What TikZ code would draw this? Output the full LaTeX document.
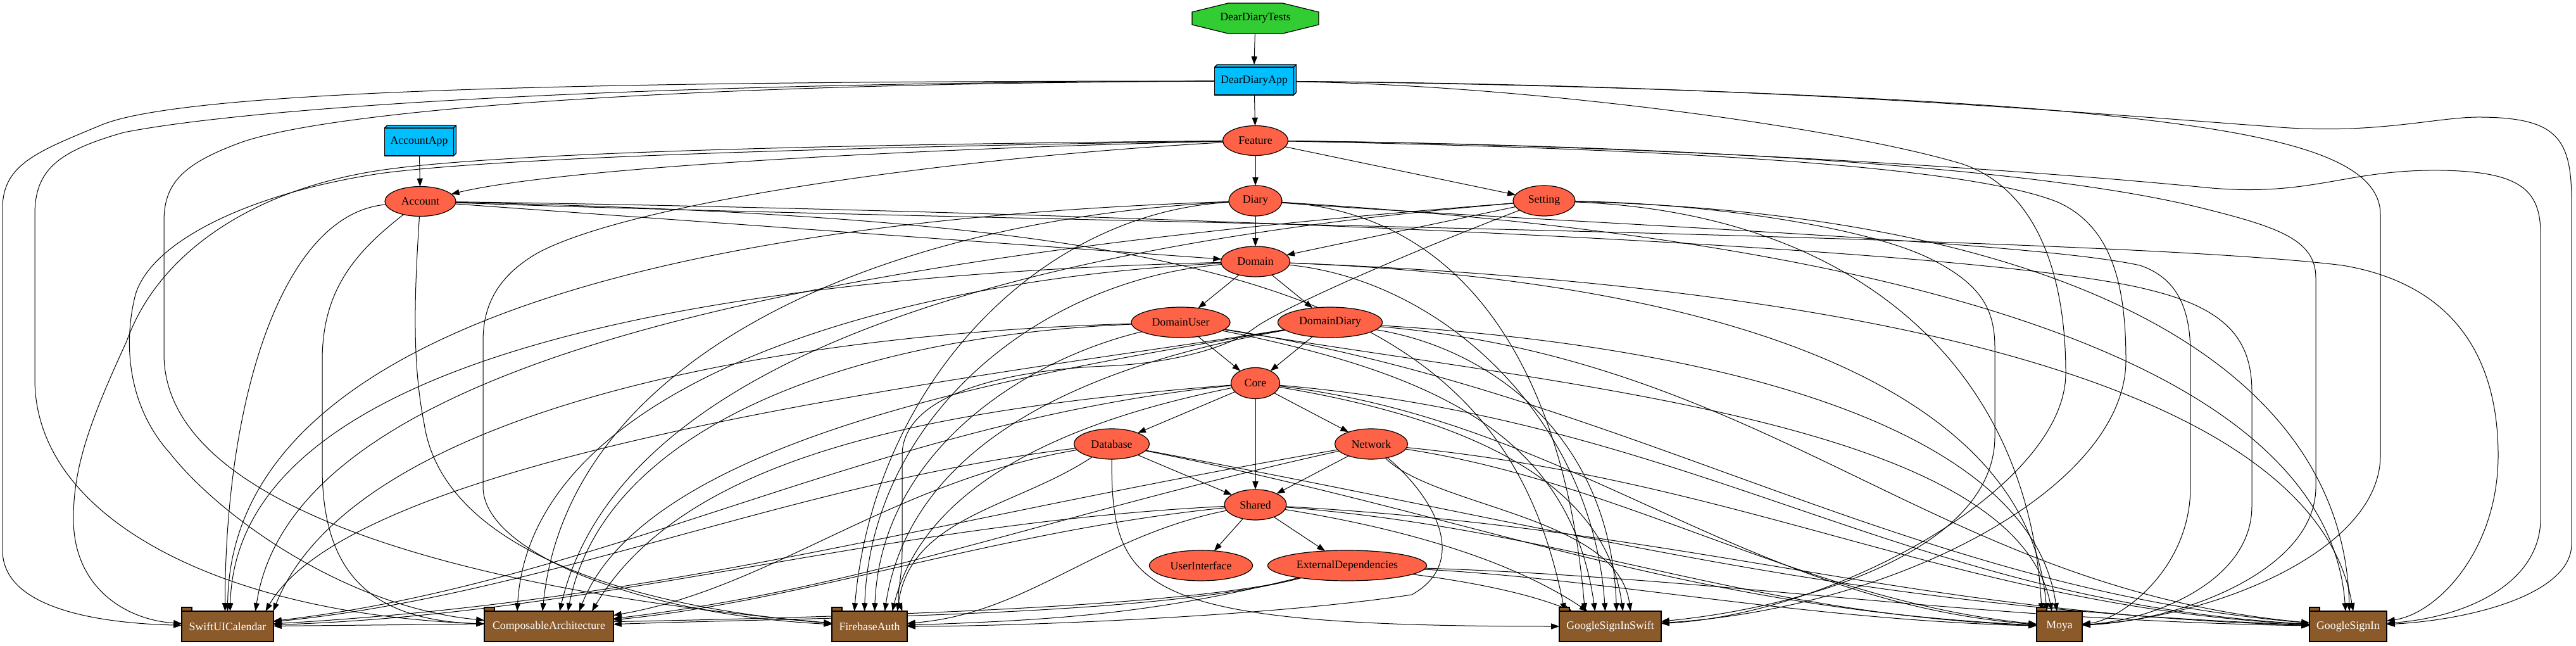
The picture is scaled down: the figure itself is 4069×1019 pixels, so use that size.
\documentclass[tikz,border=0pt]{standalone}
\usepackage{fontspec}
\setmainfont{Liberation Serif}
\usetikzlibrary{arrows.meta,shapes.geometric,backgrounds}
\definecolor{tomatoc}{HTML}{FF6347}
\definecolor{skyc}{HTML}{00BFFF}
\definecolor{greenc}{HTML}{32CD32}
\definecolor{brownc}{HTML}{8B5A2B}
\begin{document}
\begin{tikzpicture}[x=0.5pt,y=0.5pt,
  lbl/.style={font=\fontsize{8.9}{10.7}\selectfont, inner sep=0pt, outer sep=0pt},
  modnode/.style={lbl, ellipse, draw=black, line width=0.6pt, fill=tomatoc, minimum height=24pt},
  appnode/.style={lbl, rectangle, draw=black, line width=0.6pt, fill=skyc, minimum height=22pt},
  extnode/.style={lbl, rectangle, draw=black, line width=0.6pt, fill=brownc, text=white, minimum height=24pt},
  dep/.style={line width=0.5pt, -{Triangle[length=6.4pt,width=4.6pt]}},
  face/.style={fill=skyc, draw=black, line width=0.6pt, line join=round},
  tabface/.style={fill=brownc, draw=black, line width=0.6pt}]
\useasboundingbox (0,0) rectangle (4069,1019);
\begin{scope}[on background layer]\fill[white] (0,0) rectangle (4069,1019);\end{scope}

% ---------- nodes ----------
\filldraw[fill=greenc, line width=0.6pt] (1940,1014) -- (2026,1014) -- (2083,1000) -- (2083,980) -- (2026,966) -- (1940,966) -- (1883,980) -- (1883,1000) -- cycle;
\node[lbl, minimum width=100pt, minimum height=24pt] (tests) at (1983,990) {DearDiaryTests};
\node[appnode, minimum width=62.5pt] (app) at (1981,891) {DearDiaryApp};
\draw[face] (app.north west) -- ++(4,4) -- ([shift={(4,4)}]app.north east) -- (app.north east) -- cycle;
\draw[face] (app.north east) -- ++(4,4) -- ([shift={(4,4)}]app.south east) -- (app.south east) -- cycle;
\node[appnode, minimum width=54.5pt] (accapp) at (662,795) {AccountApp};
\draw[face] (accapp.north west) -- ++(4,4) -- ([shift={(4,4)}]accapp.north east) -- (accapp.north east) -- cycle;
\draw[face] (accapp.north east) -- ++(4,4) -- ([shift={(4,4)}]accapp.south east) -- (accapp.south east) -- cycle;
\node[modnode, minimum width=51.5pt, minimum height=23.5pt] (feature) at (1983,797) {Feature};
\node[modnode, minimum width=56pt, minimum height=23.5pt] (account) at (664,701) {Account};
\node[modnode, minimum width=42pt] (diary) at (1983,702) {Diary};
\node[modnode, minimum width=49pt] (setting) at (2439,702) {Setting};
\node[modnode, minimum width=54.5pt] (domain) at (1983,606) {Domain};
\node[modnode, minimum width=78pt] (du) at (1865,510) {DomainUser};
\node[modnode, minimum width=82.5pt] (dd) at (2101,510) {DomainDiary};
\node[modnode, minimum width=38.5pt, minimum height=24.5pt] (core) at (1983,414) {Core};
\node[modnode, minimum width=59.5pt] (db) at (1756,318) {Database};
\node[modnode, minimum width=57.5pt] (net) at (2166,318) {Network};
\node[modnode, minimum width=49pt] (shared) at (1983,222) {Shared};
\node[modnode, minimum width=81.5pt] (ui) at (1897,126) {UserInterface};
\node[modnode, minimum width=125.5pt] (ed) at (2128,126) {ExternalDependencies};
\node[extnode, minimum width=72.5pt] (suc) at (359.5,30) {SwiftUICalendar};
\node[extnode, minimum width=102pt] (ca) at (867,30) {ComposableArchitecture};
\node[extnode, minimum width=59.5pt] (fa) at (1373.5,30) {FirebaseAuth};
\node[extnode, minimum width=80.5pt] (gss) at (2543.5,30) {GoogleSignInSwift};
\node[extnode, minimum width=36pt] (moya) at (3253,30) {Moya};
\node[extnode, minimum width=61pt] (gs) at (3709,30) {GoogleSignIn};
\foreach \n in {suc,ca,fa,gss,moya,gs} \draw[tabface] (\n.north west) rectangle ++(16,6);

% ---------- edges ----------
\begin{scope}[on background layer]
% internal
\draw[dep] (tests) -- ([yshift=2pt]app.north);
\draw[dep] (app) -- (feature);
\draw[dep] (accapp) -- (account);
\draw[dep] (feature) .. controls (1500,786) and (900,757) .. (account);
\draw[dep] (feature) -- (diary);
\draw[dep] (feature) -- (setting);
\draw[dep] (account) -- (domain);
\draw[dep] (diary) -- (domain);
\draw[dep] (setting) -- (domain);
\draw[dep] (domain) -- (du);
\draw[dep] (domain) -- (dd);
\draw[dep] (du) -- (core);
\draw[dep] (dd) -- (core);
\draw[dep] (core) -- (db);
\draw[dep] (core) -- (net);
\draw[dep] (core) -- (shared);
\draw[dep] (db) -- (shared);
\draw[dep] (net) -- (shared);
\draw[dep] (shared) -- (ui);
\draw[dep] (shared) -- (ed);

% DearDiaryApp
\draw[dep] (app) .. controls (1000,891) and (300,879) .. (161,822) .. controls (60,780) and (4,760) .. (4,690) -- (4,150) .. controls (4,60) and (150,35) .. (suc);
\draw[dep] (app) .. controls (1000,889) and (400,850) .. (196,810) .. controls (90,780) and (55,750) .. (55,680) -- (55,420) .. controls (55,200) and (350,50) .. (ca);
\draw[dep] (app) .. controls (1000,887) and (500,840) .. (375,792) .. controls (290,760) and (259,730) .. (259,670) -- (259,460) .. controls (259,200) and (800,80) .. (fa);
\draw[dep] (app) .. controls (2400,885) and (2900,820) .. (3100,760) .. controls (3230,715) and (3263,560) .. (3263,430) .. controls (3263,250) and (2900,50) .. (gss);
\draw[dep] (app) .. controls (2600,885) and (3100,860) .. (3294,840) .. controls (3600,810) and (3760,770) .. (3760,680) -- (3760,300) .. controls (3760,150) and (3500,45) .. (moya);
\draw[dep] (app) .. controls (2800,885) and (3300,840) .. (3589,819) .. controls (3750,805) and (3850,835) .. (3919,834) .. controls (4040,833) and (4062,800) .. (4062,700) -- (4062,160) .. controls (4062,80) and (3900,40) .. (gs);

% Feature
\draw[dep] (feature) .. controls (1400,792) and (800,780) .. (600,750) .. controls (400,720) and (250,620) .. (200,480) .. controls (140,350) and (116,280) .. (116,200) .. controls (116,90) and (200,40) .. (suc);
\draw[dep] (feature) .. controls (1400,788) and (800,772) .. (600,745) .. controls (400,715) and (240,640) .. (214,554) .. controls (195,480) and (200,380) .. (268,304) .. controls (350,200) and (550,60) .. (ca);
\draw[dep] (feature) .. controls (1500,770) and (1000,700) .. (850,620) .. controls (780,580) and (763,530) .. (763,480) -- (763,250) .. controls (763,150) and (1000,50) .. (fa);
\draw[dep] (feature) .. controls (2600,785) and (3100,760) .. (3250,700) .. controls (3340,660) and (3358,560) .. (3358,450) .. controls (3358,250) and (3000,60) .. (gss);
\draw[dep] (feature) .. controls (2600,790) and (3200,760) .. (3480,690) .. controls (3600,660) and (3658,640) .. (3658,580) -- (3658,250) .. controls (3658,120) and (3450,40) .. (moya);
\draw[dep] (feature) .. controls (2500,792) and (3100,760) .. (3473,724) .. controls (3650,705) and (3700,752) .. (3856,750) .. controls (3980,748) and (4013,720) .. (4013,650) -- (4013,200) .. controls (4013,100) and (3900,45) .. (gs);

% Account
\draw[dep] (account) .. controls +(-220,-20) and +(0,330) .. ([xshift=-2pt]suc.north);
\draw[dep] (account) .. controls (560,620) and (509,560) .. (509,450) -- (509,280) .. controls (509,100) and (600,40) .. (ca);
\draw[dep] (account) .. controls (655,560) and (650,450) .. (670,350) .. controls (700,150) and (1000,60) .. (fa);
\draw[dep] (account) .. controls +(1300,-30) and +(-100,500) .. ([xshift=-36pt]gss.north);
\draw[dep] (account) .. controls (1500,690) and (3100,640) .. (3400,560) .. controls (3520,530) and (3557,480) .. (3557,400) -- (3557,220) .. controls (3557,100) and (3400,40) .. (moya);
\draw[dep] (account) .. controls (1500,670) and (3300,650) .. (3700,600) .. controls (3880,570) and (3946,450) .. (3946,300) .. controls (3946,150) and (3850,50) .. (gs);

% Diary
\draw[dep] (diary) .. controls +(-900,-30) and +(5,450) .. (suc.north);
\draw[dep] (diary) .. controls +(-600,-30) and +(40,400) .. ([xshift=-5pt]ca.north);
\draw[dep] (diary) .. controls +(-350,-20) and +(30,350) .. ([xshift=-12pt]fa.north);
\draw[dep] (diary) .. controls +(350,-20) and +(-30,350) .. ([xshift=-20pt]gss.north);
\draw[dep] (diary) .. controls (2400,670) and (3200,640) .. (3380,600) .. controls (3440,580) and (3460,530) .. (3460,460) -- (3460,250) .. controls (3460,120) and (3350,40) .. (moya);
\draw[dep] (diary) .. controls +(1000,-60) and +(-30,400) .. ([xshift=-2pt]gs.north);

% Setting
\draw[dep] (setting) .. controls +(-1150,-90) and +(60,400) .. ([xshift=22pt]suc.north);
\draw[dep] (setting) .. controls +(-900,-75) and +(90,380) .. ([xshift=8.5pt]ca.north);
\draw[dep] (setting) .. controls (2200,610) and (2020,530) .. (1980,500) .. controls (1940,470) and (1850,445) .. (1746,441) .. controls (1600,435) and (1425,400) .. (1425,300) -- (1425,150) .. controls (1425,100) and (1415,80) .. ([xshift=26pt]fa.north);
\draw[dep] (setting) .. controls (2700,698) and (2950,660) .. (3050,610) .. controls (3130,570) and (3151,530) .. (3151,470) -- (3151,330) .. controls (3151,150) and (2850,60) .. (gss);
\draw[dep] (setting) .. controls +(500,-20) and +(-20,380) .. ([xshift=-14pt]moya.north);
\draw[dep] (setting) .. controls +(800,-20) and +(-10,400) .. ([xshift=1pt]gs.north);

% Domain
\draw[dep] (domain) .. controls +(-800,-20) and +(10,420) .. ([xshift=2pt]suc.north);
\draw[dep] (domain) .. controls +(-600,-30) and +(20,350) .. ([xshift=-25pt]ca.north);
\draw[dep] (domain) .. controls +(-350,-30) and +(10,300) .. ([xshift=-4pt]fa.north);
\draw[dep] (domain) .. controls +(300,-30) and +(-20,300) .. ([xshift=-4pt]gss.north);
\draw[dep] (domain) .. controls +(750,-30) and +(-30,350) .. ([xshift=-10pt]moya.north);
\draw[dep] (domain) .. controls +(1000,-40) and +(-60,350) .. ([xshift=4pt]gs.north);

% DomainUser
\draw[dep] (du) .. controls +(-700,-20) and +(120,300) .. ([xshift=36pt]suc.north);
\draw[dep] (du) .. controls +(-500,-20) and +(60,300) .. ([xshift=15pt]ca.north);
\draw[dep] (du) .. controls +(-250,-60) and +(10,250) .. ([xshift=4pt]fa.north);
\draw[dep] (du) .. controls +(400,-80) and +(-40,280) .. ([xshift=-12pt]gss.north);
\draw[dep] (du) .. controls +(600,-100) and +(-60,300) .. ([xshift=-6pt]moya.north);
\draw[dep] (du) .. controls +(700,-110) and +(-700,60) .. (gs);

% DomainDiary
\draw[dep] (dd) .. controls +(-500,-80) and +(150,260) .. ([xshift=30pt]suc.north);
\draw[dep] (dd) .. controls +(-450,-75) and +(110,280) .. ([xshift=24pt]ca.north);
\draw[dep] (dd) .. controls +(-400,-70) and +(40,260) .. ([xshift=12pt]fa.north);
\draw[dep] (dd) .. controls +(250,-40) and +(-10,280) .. ([xshift=5pt]gss.north);
\draw[dep] (dd) .. controls +(650,-40) and +(-40,280) .. ([xshift=-2pt]moya.north);
\draw[dep] (dd) .. controls +(700,-60) and +(-650,60) .. (gs);

% Core
\draw[dep] (core) .. controls +(-600,-60) and +(600,70) .. (suc);
\draw[dep] (core) .. controls +(-500,-40) and +(150,250) .. ([xshift=34pt]ca.north);
\draw[dep] (core) .. controls +(-300,-60) and +(50,200) .. ([xshift=18pt]fa.north);
\draw[dep] (core) .. controls +(300,-50) and +(-30,220) .. ([xshift=10pt]gss.north);
\draw[dep] (core) .. controls +(500,-60) and +(-500,40) .. (moya);
\draw[dep] (core) .. controls +(700,-60) and +(-700,40) .. (gs);

% Database
\draw[dep] (db) .. controls +(-500,-60) and +(500,50) .. (suc);
\draw[dep] (db) .. controls +(-350,-60) and +(350,60) .. (ca);
\draw[dep] (db) .. controls +(-150,-100) and +(20,150) .. ([xshift=22pt]fa.north);
\draw[dep] (db) .. controls +(0,-230) and +(-750,0) .. (gss);
\draw[dep] (db) .. controls +(600,-120) and +(-600,30) .. (moya);
\draw[dep] (db) .. controls +(800,-150) and +(-800,30) .. (gs);

% Network
\draw[dep] (net) .. controls +(-700,-120) and +(700,40) .. (suc);
\draw[dep] (net) .. controls +(-500,-110) and +(500,60) .. (ca);
\draw[dep] (net) .. controls (2270,230) and (2320,130) .. (2230,80) .. controls (2000,45) and (1600,30) .. (fa);
\draw[dep] (net) .. controls +(100,-100) and +(-20,150) .. ([xshift=16pt]gss.north);
\draw[dep] (net) .. controls +(400,-60) and +(-400,40) .. (moya);
\draw[dep] (net) .. controls +(600,-60) and +(-600,30) .. (gs);

% Shared
\draw[dep] (shared) .. controls +(-600,-30) and +(600,20) .. (suc);
\draw[dep] (shared) .. controls +(-400,-40) and +(400,40) .. (ca);
\draw[dep] (shared) .. controls +(-250,-50) and +(250,20) .. (fa);
\draw[dep] (shared) .. controls +(250,-40) and +(-150,100) .. (gss);
\draw[dep] (shared) .. controls +(500,-40) and +(-500,20) .. (moya);
\draw[dep] (shared) .. controls +(700,-40) and +(-700,20) .. (gs);

% ExternalDependencies
\draw[dep] (ed) .. controls +(-300,-80) and +(600,5) .. (suc);
\draw[dep] (ed) .. controls +(-300,-80) and +(450,15) .. (ca);
\draw[dep] (ed) .. controls +(-300,-75) and +(300,10) .. (fa);
\draw[dep] (ed) .. controls +(150,-20) and +(-150,60) .. (gss);
\draw[dep] (ed) .. controls +(400,-20) and +(-400,10) .. (moya);
\draw[dep] (ed) .. controls +(600,-20) and +(-600,10) .. (gs);
\end{scope}
\end{tikzpicture}
\end{document}
